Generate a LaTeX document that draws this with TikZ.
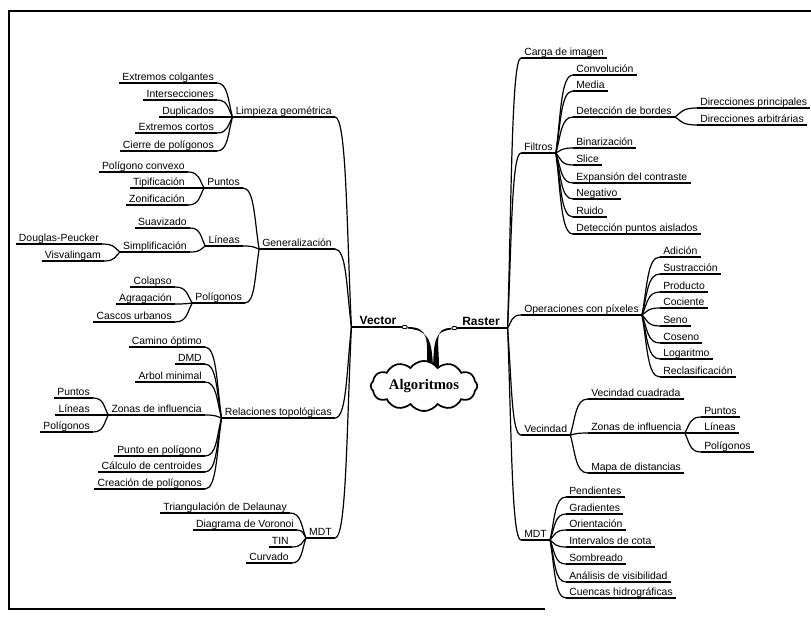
\documentclass[tikz,border=0pt]{standalone}
\usepackage{fontspec}
\setmainfont{Liberation Sans}
\newfontfamily\cloudfont{Liberation Serif}
\usetikzlibrary{calc,shapes.symbols,shapes.geometric}

\tikzset{
  topic/.style={font=\fontsize{7.8}{9}\selectfont, inner xsep=2pt, inner ysep=1.2pt, text depth=0pt,
    append after command={(\tikzlastnode.south west) edge (\tikzlastnode.south east)}},
  ltopic/.style={topic, anchor=south east},
  rtopic/.style={topic, anchor=south west},
  main/.style={topic, font=\bfseries\fontsize{9}{11}\selectfont, minimum width=39pt, anchor=south},
  knob/.style={ellipse, draw, fill=white, line width=0.6pt, minimum width=4pt, minimum height=2.6pt, inner sep=0pt},
  branch/.style={to path={let \p1=(\tikztostart), \p2=(\tikztotarget) in
      .. controls ({\x1+0.3*(\x2-\x1)},{0.5*(\y1+\y2)}) and ({\x1+0.3*(\x2-\x1)},\y2) .. (\tikztotarget)}},
}

\begin{document}
\begin{tikzpicture}[x=0.75pt, y=-0.75pt, line width=0.9pt]
	\useasboundingbox (0,0) rectangle (811,617);
	% frame
	\draw[line width=1.2pt] (811,11) -- (9,11) -- (9,609) -- (545,609);

	% vector side
	\node[main] (vector) at (378,327) {Vector};
	\node[ltopic] (limp) at (335,117) {Limpieza geométrica};
	\node[ltopic] (gen) at (335,249) {Generalización};
	\node[ltopic] (rel) at (335,418) {Relaciones topológicas};
	\node[ltopic] (mdtv) at (335,538) {MDT};

	\node[ltopic] (colg) at (217,83) {Extremos colgantes};
	\node[ltopic] (inter) at (217,100) {Intersecciones};
	\node[ltopic] (dupl) at (217,117) {Duplicados};
	\node[ltopic] (cortos) at (217,133) {Extremos cortos};
	\node[ltopic] (cierre) at (217,151) {Cierre de polígonos};

	\node[ltopic] (puntv) at (243,188) {Puntos};
	\node[ltopic] (linv) at (243,246) {Líneas};
	\node[ltopic] (polv) at (245,303) {Polígonos};

	\node[ltopic] (conv) at (188,172) {Polígono convexo};
	\node[ltopic] (tipi) at (188,188) {Tipificación};
	\node[ltopic] (zoni) at (188,205) {Zonificación};
	\node[ltopic] (suav) at (190,228) {Suavizado};
	\node[ltopic] (simp) at (190,252) {Simplificación};
	\node[ltopic] (doug) at (102,244) {Douglas-Peucker};
	\node[ltopic] (visv) at (104,261) {Visvalingam};
	\node[ltopic] (colap) at (175,287) {Colapso};
	\node[ltopic] (agrag) at (175,304) {Agragación};
	\node[ltopic] (cascos) at (175,322) {Cascos urbanos};

	\node[ltopic] (camino) at (205,347) {Camino óptimo};
	\node[ltopic] (dmd) at (205,364) {DMD};
	\node[ltopic] (arbol) at (205,382) {Arbol minimal};
	\node[ltopic] (zonasv) at (205,415) {Zonas de influencia};
	\node[ltopic] (ptpol) at (205,456) {Punto en polígono};
	\node[ltopic] (centr) at (205,472) {Cálculo de centroides};
	\node[ltopic] (creac) at (205,489) {Creación de polígonos};
	\node[ltopic] (pv2) at (93,398) {Puntos};
	\node[ltopic] (lv2) at (93,415) {Líneas};
	\node[ltopic] (plv2) at (93,432) {Polígonos};

	\node[ltopic] (delau) at (290,513) {Triangulación de Delaunay};
	\node[ltopic] (voron) at (297,530) {Diagrama de Voronoi};
	\node[ltopic] (tin) at (292,547) {TIN};
	\node[ltopic] (curv) at (292,563) {Curvado};

	% raster side
	\node[main] (raster) at (481,328) {Raster};
	\node[rtopic] (carga) at (521,58) {Carga de imagen};
	\node[rtopic] (filtros) at (521,153) {Filtros};
	\node[rtopic] (oper) at (521,315) {Operaciones con píxeles};
	\node[rtopic] (vecin) at (521,435) {Vecindad};
	\node[rtopic] (mdtr) at (521,540) {MDT};

	\node[rtopic] (convo) at (573,75) {Convolución};
	\node[rtopic] (media) at (573,91) {Media};
	\node[rtopic] (deteb) at (573,117) {Detección de bordes};
	\node[rtopic] (binar) at (573,148) {Binarización};
	\node[rtopic] (slice) at (573,165) {Slice};
	\node[rtopic] (expan) at (573,183) {Expansión del contraste};
	\node[rtopic] (negat) at (573,199) {Negativo};
	\node[rtopic] (ruido) at (573,217) {Ruido};
	\node[rtopic] (aisl) at (573,234) {Detección puntos aislados};
	\node[rtopic] (dirp) at (697,108) {Direcciones principales};
	\node[rtopic] (dira) at (697,125) {Direcciones arbitrárias};

	\node[rtopic] (adic) at (660,257) {Adición};
	\node[rtopic] (sustr) at (660,274) {Sustracción};
	\node[rtopic] (produ) at (660,292) {Producto};
	\node[rtopic] (cocie) at (660,308) {Cociente};
	\node[rtopic] (seno) at (660,326) {Seno};
	\node[rtopic] (coseno) at (660,343) {Coseno};
	\node[rtopic] (logar) at (660,359) {Logaritmo};
	\node[rtopic] (reclas) at (660,377) {Reclasificación};

	\node[rtopic] (vcuad) at (588,399) {Vecindad cuadrada};
	\node[rtopic] (zonasr) at (588,433) {Zonas de influencia};
	\node[rtopic] (mapa) at (588,473) {Mapa de distancias};
	\node[rtopic] (pr2) at (701,417) {Puntos};
	\node[rtopic] (lr2) at (701,433) {Líneas};
	\node[rtopic] (plr2) at (701,452) {Polígonos};

	\node[rtopic] (pend) at (566,497) {Pendientes};
	\node[rtopic] (grad) at (566,514) {Gradientes};
	\node[rtopic] (orien) at (566,530) {Orientación};
	\node[rtopic] (interv) at (566,547) {Intervalos de cota};
	\node[rtopic] (sombr) at (566,564) {Sombreado};
	\node[rtopic] (anali) at (566,582) {Análisis de visibilidad};
	\node[rtopic] (cuenc) at (566,598) {Cuencas hidrográficas};

	% branches, left
	\foreach \c in {limp,gen,rel,mdtv} \draw (vector.south west) to[branch] (\c.south east);
	\foreach \c in {colg,inter,dupl,cortos,cierre} \draw (limp.south west) to[branch] (\c.south east);
	\foreach \c in {puntv,linv,polv} \draw (gen.south west) to[branch] (\c.south east);
	\foreach \c in {conv,tipi,zoni} \draw (puntv.south west) to[branch] (\c.south east);
	\foreach \c in {suav,simp} \draw (linv.south west) to[branch] (\c.south east);
	\foreach \c in {doug,visv} \draw (simp.south west) to[branch] (\c.south east);
	\foreach \c in {colap,agrag,cascos} \draw (polv.south west) to[branch] (\c.south east);
	\foreach \c in {camino,dmd,arbol,zonasv,ptpol,centr,creac} \draw (rel.south west) to[branch] (\c.south east);
	\foreach \c in {pv2,lv2,plv2} \draw (zonasv.south west) to[branch] (\c.south east);
	\foreach \c in {delau,voron,tin,curv} \draw (mdtv.south west) to[branch] (\c.south east);

	% branches, right
	\foreach \c in {carga,filtros,oper,vecin,mdtr} \draw (raster.south east) to[branch] (\c.south west);
	\foreach \c in {convo,media,deteb,binar,slice,expan,negat,ruido,aisl} \draw (filtros.south east) to[branch] (\c.south west);
	\foreach \c in {dirp,dira} \draw (deteb.south east) to[branch] (\c.south west);
	\foreach \c in {adic,sustr,produ,cocie,seno,coseno,logar,reclas} \draw (oper.south east) to[branch] (\c.south west);
	\foreach \c in {vcuad,zonasr,mapa} \draw (vecin.south east) to[branch] (\c.south west);
	\foreach \c in {pr2,lr2,plr2} \draw (zonasr.south east) to[branch] (\c.south west);
	\foreach \c in {pend,grad,orien,interv,sombr,anali,cuenc} \draw (mdtr.south east) to[branch] (\c.south west);

	% root
	\coordinate (vtip) at (430,368);
	\coordinate (rtip) at (436,368);
	\node[knob] (vknob) at (vector.south east) {};
	\node[knob] (rknob) at (raster.south west) {};
	\fill (vknob.east) .. controls +(22,0) and +(0,-28) .. ($(vtip)+(-3,0)$)
		-- ($(vtip)+(3,0)$) .. controls +(-1,-30) and +(20,2) .. ($(vknob.east)+(0,1.5)$) -- cycle;
	\fill (rknob.west) .. controls +(-18,0) and +(0,-28) .. ($(rtip)+(3,0)$)
		-- ($(rtip)+(-3,0)$) .. controls +(1,-30) and +(-16,2) .. ($(rknob.west)+(0,1.5)$) -- cycle;
	\node[cloud, cloud puffs=12, cloud puff arc=110, aspect=2.6, draw, fill=white, line width=1.3pt,
		inner sep=0pt, minimum width=80pt, minimum height=35pt,
		font=\cloudfont\bfseries\fontsize{11}{13}\selectfont] (algo) at (424,386) {Algoritmos};
\end{tikzpicture}
\end{document}
